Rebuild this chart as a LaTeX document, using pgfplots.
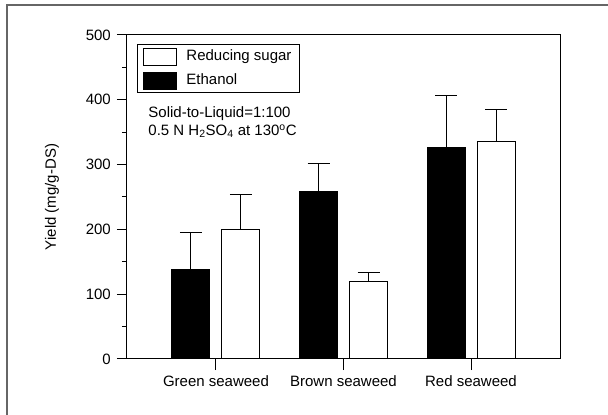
\documentclass[border=0pt]{standalone}
\usepackage{fontspec}
\setmainfont{Liberation Sans}
\usepackage{pgfplots}
\pgfplotsset{compat=1.18}
\newcommand{\ff}{\fontsize{15}{17.5}\selectfont}
\begin{document}
\ff
\begin{tikzpicture}
\path[use as bounding box] (-127pt,-56pt) rectangle (481pt,359pt);
\draw[line width=2pt, black!60] (-120pt,-60pt) -- (-120pt,354pt) -- (485pt,354pt);
\begin{axis}[
	scale only axis, width=433pt, height=324pt,
	/pgf/number format/assume math mode=true,
	tick label style={font=\ff},
	ybar=12pt, bar width=38pt,
	xmin=0.302, xmax=3.698,
	ymin=0, ymax=500,
	xtick={1,2,3},
	xticklabels={Green seaweed, Brown seaweed, Red seaweed},
	ytick={0,100,...,500},
	minor ytick={50,150,...,450},
	tick align=outside,
	xtick pos=bottom, ytick pos=left,
	major tick length=10pt, minor tick length=5pt,
	xtick style={/pgfplots/major tick length=11pt},
	tick style={black, line width=1pt},
	axis line style={line width=1pt},
	yticklabel style={xshift=-1pt},
	xticklabel style={yshift=-1pt},
	ylabel={\ff Yield (mg/g-DS)},
	ylabel style={at={(axis description cs:-0.173,0.5)}, anchor=center},
	reverse legend,
	legend cell align=left,
	legend style={at={(rel axis cs:0.023,0.972)}, anchor=north west,
		draw=black, line width=1pt, inner xsep=6pt, inner ysep=3pt,
		row sep=6pt, column sep=7pt},
	legend image code/.code={\draw[#1, line width=1pt] (0pt,-8.5pt) rectangle (33pt,8.5pt);},
	error bars/y dir=plus,
	error bars/y explicit,
	error bars/error bar style={line width=1pt, black},
	error bars/error mark options={rotate=90, mark size=11pt, line width=1pt, black},
	]
	
	\addplot[fill=black, draw=black, line width=1pt]
	coordinates{
		(1, 138) +- (0, 57)
		(2, 258) +- (0, 44)
		(3, 327) +- (0, 79)
	};
	\addlegendentry{\ff Ethanol}
	
	\addplot[fill=white, draw=black, line width=1pt]
	coordinates{
		(1, 200) +- (0, 54)
		(2, 119) +- (0, 15)
		(3, 336) +- (0, 49)
	};
	\addlegendentry{\ff Reducing sugar}
	
	\node[anchor=north west, align=left, inner sep=0pt, font=\ff]
		at (rel axis cs:0.049,0.778)
		{Solid-to-Liquid=1:100\\0.5 N H\textsubscript{2}SO\textsubscript{4} at 130\textsuperscript{o}C};
	
\end{axis}
\end{tikzpicture}
\end{document}
